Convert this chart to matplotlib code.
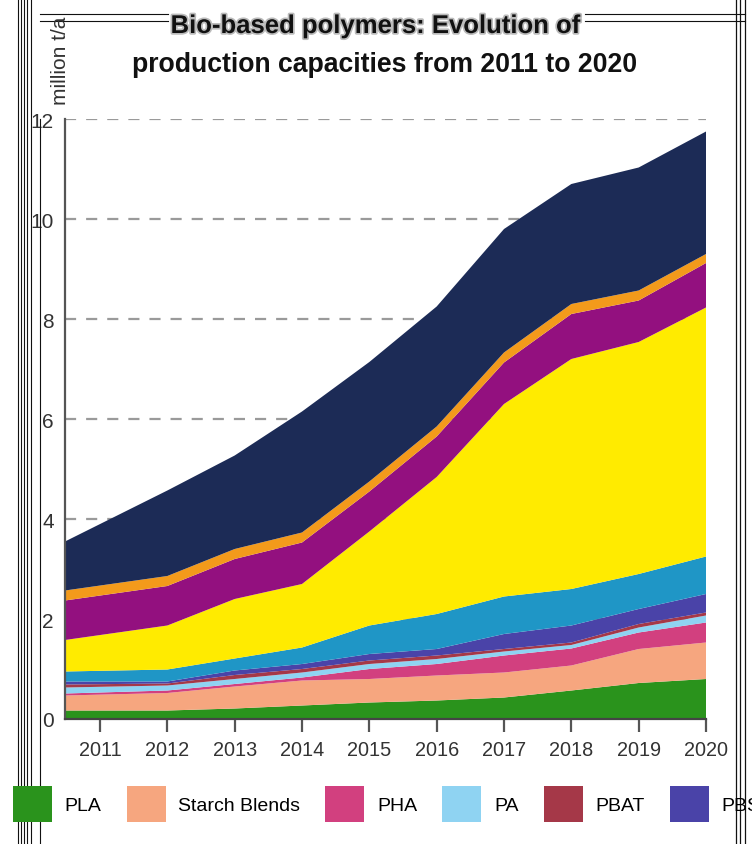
import numpy as np
import matplotlib
matplotlib.use("Agg")
import matplotlib.pyplot as plt
from matplotlib.patches import Patch
from matplotlib.lines import Line2D
import matplotlib.patheffects as pe

plt.rcParams['font.family'] = ['Liberation Sans', 'DejaVu Sans']

# --- data: production capacity per polymer, million t/a (stacked, bottom -> top) ---
years = [2011, 2012, 2013, 2014, 2015, 2016, 2017, 2018, 2019, 2020]

pla    = [0.17, 0.17, 0.21, 0.27, 0.33, 0.37, 0.43, 0.57, 0.72, 0.80]
starch = [0.30, 0.35, 0.44, 0.50, 0.47, 0.50, 0.50, 0.50, 0.68, 0.73]
pha    = [0.04, 0.05, 0.05, 0.06, 0.20, 0.23, 0.34, 0.34, 0.33, 0.40]
pa     = [0.12, 0.10, 0.10, 0.10, 0.10, 0.10, 0.08, 0.07, 0.10, 0.14]
pbat   = [0.06, 0.04, 0.08, 0.07, 0.07, 0.07, 0.05, 0.05, 0.07, 0.06]
pbs    = [0.06, 0.04, 0.09, 0.10, 0.13, 0.13, 0.30, 0.34, 0.30, 0.37]
pe_    = [0.20, 0.24, 0.24, 0.33, 0.57, 0.70, 0.75, 0.73, 0.70, 0.75]
pet    = [0.63, 0.88, 1.19, 1.27, 1.88, 2.74, 3.85, 4.60, 4.64, 4.98]
ptt    = [0.79, 0.79, 0.80, 0.83, 0.80, 0.81, 0.83, 0.90, 0.83, 0.89]
pur    = [0.20, 0.20, 0.20, 0.20, 0.20, 0.20, 0.20, 0.20, 0.20, 0.18]
other  = [0.98, 1.71, 1.87, 2.42, 2.39, 2.40, 2.47, 2.40, 2.46, 2.45]

layers = [pla, starch, pha, pa, pbat, pbs, pe_, pet, ptt, pur, other]
colors = ['#2a931c', '#f6a67f', '#d2407f', '#8fd3f2', '#a53848', '#4a43a8',
          '#1f96c6', '#ffeb00', '#93107f', '#f39a1b', '#1c2b56']

legend_names = ['PLA', 'Starch Blends', 'PHA', 'PA', 'PBAT', 'PBS']

W, H = 752, 845
fig = plt.figure(figsize=(W / 100, H / 100), dpi=100)
ax = fig.add_axes([65 / W, 1 - 720 / H, 641 / W, 600 / H])

x_min = 2010.48
# first column runs from the left edge of the axis
xs = np.array(years, dtype=float)
xs[0] = x_min

ax.stackplot(xs, layers, colors=colors, linewidth=0, zorder=2)

ax.set_xlim(x_min, 2020)
ax.set_ylim(0, 12)
ax.set_xticks(years)
ax.set_xticklabels([str(y) for y in years], fontsize=14.3, color='#333333')
ax.set_yticks([0, 2, 4, 6, 8, 10, 12])
ax.set_yticklabels(['0', '2', '4', '6', '8', '10', '12'], fontsize=15, color='#333333')
ax.tick_params(axis='x', direction='out', length=9, width=1.6, color='#555555', pad=6)
ax.tick_params(axis='y', length=0, pad=8)

ax.yaxis.grid(True, linestyle=(0, (5, 4.5)), color='#9a9a9a', linewidth=1.6, zorder=1)
ax.set_axisbelow(True)
for side in ['top', 'right']:
    ax.spines[side].set_visible(False)
ax.spines['left'].set_color('#555555')
ax.spines['left'].set_linewidth(1.6)
ax.spines['bottom'].set_color('#444444')
ax.spines['bottom'].set_linewidth(1.6)
ax.spines['left'].set_zorder(3)
ax.spines['bottom'].set_zorder(3)

# titles
fig.text(376 / W, 1 - 27 / H, 'Bio-based polymers: Evolution of', ha='center', va='center',
         fontsize=18.5, fontweight='bold', color='#111111',
         path_effects=[pe.withStroke(linewidth=2.5, foreground='#bbbbbb')])
fig.text(385 / W, 1 - 65 / H, 'production capacities from 2011 to 2020', ha='center', va='center',
         fontsize=19.2, fontweight='bold', color='#111111')
fig.text(60 / W, 1 - 105 / H, 'million t/a', rotation=90, ha='center', va='bottom',
         fontsize=15, color='#333333')

# legend row
handles = [Patch(facecolor=c, edgecolor='none') for c in colors[:6]]
fig.legend(handles, legend_names, loc='center left', bbox_to_anchor=(13 / W, 1 - 805 / H),
           ncol=6, frameon=False, fontsize=14, handlelength=2.0, handleheight=2.4,
           handletextpad=0.65, columnspacing=1.3, borderaxespad=0, borderpad=0)

# scanned frame lines around the page
def fline(x0, y0, x1, y1, lw=1.0, color='#111111'):
    fig.add_artist(Line2D([x0 / W, x1 / W], [1 - y0 / H, 1 - y1 / H],
                          transform=fig.transFigure, color=color, linewidth=lw))

for xv in [18, 21, 24, 27, 31]:
    fline(xv, 0, xv, H, lw=0.8)
fline(40, 120, 40, H, lw=0.8)
for xv in [736, 740, 745]:
    fline(xv, 0, xv, H, lw=0.9)
for yv in [15, 22]:
    fline(40, yv, 168, yv, lw=0.8)
    fline(585, yv, 745, yv, lw=0.8)

fig.savefig('out.png', dpi=100)
